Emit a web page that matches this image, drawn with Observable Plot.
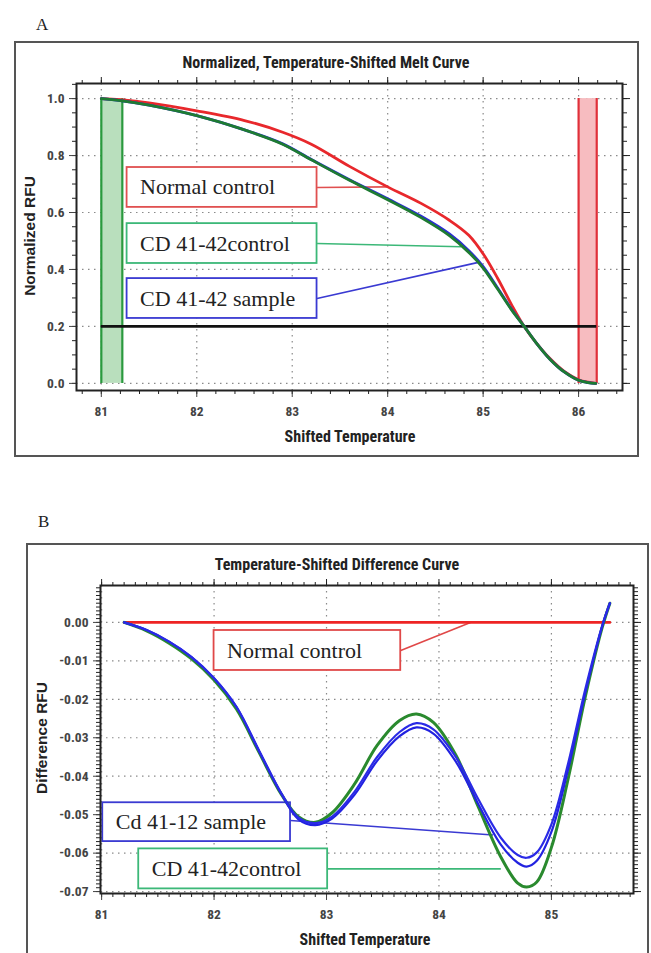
<!DOCTYPE html>
<html><head><meta charset="utf-8">
<script src="https://cdn.jsdelivr.net/npm/d3@7"></script>
<script src="https://cdn.jsdelivr.net/npm/@observablehq/plot@0.6"></script>
<style>
body{margin:0;background:#fff;}
#page{position:relative;width:651px;height:953px;overflow:hidden;background:#fff;}
.letter{position:absolute;font-family:"Liberation Serif","DejaVu Serif",serif;font-size:17px;color:#222;}
.box{position:absolute;border:2px solid #555;box-sizing:border-box;}
.title,.xlab{position:absolute;font-family:"Liberation Sans Narrow","Arial Narrow","Roboto Condensed","Liberation Sans",sans-serif;font-weight:bold;font-size:16px;color:#222;transform:translate(-50%,-50%);white-space:nowrap;line-height:1;}
.ylab{position:absolute;font-family:"Liberation Sans",Arial,sans-serif;font-weight:bold;font-size:15.5px;color:#222;transform:translate(-50%,-50%) rotate(-90deg);white-space:nowrap;line-height:1;}
.plot{position:absolute;left:0;}
</style></head>
<body>
<div id="page">
  <div class="letter" style="left:36px;top:15px;">A</div>
  <div class="box" style="left:14px;top:41px;width:625px;height:416px;"></div>
  <div class="plot" id="plotA" style="top:0px;"></div>
  <div class="title" style="left:326px;top:63px;">Normalized, Temperature-Shifted Melt Curve</div>
  <div class="xlab" style="left:350px;top:437px;">Shifted Temperature</div>
  <div class="ylab" style="left:30px;top:236px;">Normalized RFU</div>

  <div class="letter" style="left:38px;top:512px;">B</div>
  <div class="box" style="left:26px;top:543px;width:623px;height:430px;"></div>
  <div class="plot" id="plotB" style="top:500px;"></div>
  <div class="title" style="left:337px;top:565px;">Temperature-Shifted Difference Curve</div>
  <div class="xlab" style="left:365px;top:940px;">Shifted Temperature</div>
  <div class="ylab" style="left:42px;top:738px;">Difference RFU</div>
</div>
<script>
// ---------- Panel A : normalized melt curve ----------
const meltTemp      = [81.0, 81.2, 81.5, 82.0, 82.5, 82.9, 83.2, 83.6, 84.0, 84.35, 84.65, 84.85, 85.0, 85.15, 85.3, 85.43, 85.55, 85.7, 85.85, 86.0, 86.1, 86.18];
const meltNormal    = [1.0, 0.996, 0.985, 0.957, 0.923, 0.882, 0.84, 0.762, 0.69, 0.632, 0.572, 0.52, 0.455, 0.37, 0.275, 0.2, 0.145, 0.087, 0.042, 0.013, 0.004, 0.0];
const meltCdControl = [1.0, 0.993, 0.977, 0.94, 0.89, 0.84, 0.785, 0.713, 0.645, 0.582, 0.518, 0.46, 0.405, 0.332, 0.257, 0.2, 0.145, 0.085, 0.04, 0.011, 0.003, 0.0];
const meltCdSample  = [1.0, 0.993, 0.977, 0.94, 0.89, 0.841, 0.786, 0.715, 0.648, 0.587, 0.524, 0.466, 0.41, 0.336, 0.259, 0.2, 0.145, 0.085, 0.04, 0.011, 0.003, 0.0];
const meltXTicks = [81, 82, 83, 84, 85, 86];
const meltYTicks = [0.0, 0.2, 0.4, 0.6, 0.8, 1.0];
const meltThreshold = 0.2;
const meltStartBand = [81.0, 81.22];
const meltEndBand   = [86.0, 86.19];
const meltLabels  = ["Normal control", "CD 41-42control", "CD 41-42 sample"];
const meltColors  = ["#e8282c", "#1e7b32", "#2a2ad8"];
const meltBoxColors = ["#e05050", "#3cb878", "#3a3ad2"];

// ---------- Panel B : difference curve ----------
const diffTemp      = [81.2, 81.4, 81.6, 81.8, 82.0, 82.2, 82.4, 82.6, 82.75, 82.9, 83.05, 83.25, 83.45, 83.65, 83.8, 83.95, 84.15, 84.35, 84.55, 84.7, 84.78, 84.87, 85.0, 85.15, 85.3, 85.45, 85.52];
const diffNormal    = [0, 0, 0, 0, 0, 0, 0, 0, 0, 0, 0, 0, 0, 0, 0, 0, 0, 0, 0, 0, 0, 0, 0, 0, 0, 0, 0];
const diffCdControl = [0, -0.0022, -0.0054, -0.0095, -0.015, -0.0226, -0.0338, -0.0448, -0.0505, -0.052, -0.0495, -0.042, -0.032, -0.0255, -0.0238, -0.026, -0.0345, -0.048, -0.061, -0.0678, -0.0688, -0.0675, -0.0585, -0.0405, -0.0195, -0.0015, 0.005];
const diffCdSample1 = [0, -0.002, -0.005, -0.009, -0.0145, -0.022, -0.0333, -0.0445, -0.0508, -0.0522, -0.0505, -0.044, -0.035, -0.0285, -0.0262, -0.0278, -0.035, -0.046, -0.056, -0.0605, -0.0612, -0.0598, -0.0525, -0.0365, -0.0175, -0.001, 0.005];
const diffCdSample2 = [0, -0.002, -0.005, -0.009, -0.0145, -0.022, -0.0335, -0.0447, -0.0512, -0.0527, -0.051, -0.0448, -0.036, -0.0296, -0.0273, -0.0289, -0.0362, -0.0473, -0.0578, -0.0625, -0.0635, -0.062, -0.0545, -0.038, -0.0185, -0.0012, 0.005];
const diffXTicks = [81, 82, 83, 84, 85];
const diffYTicks = [0.00, -0.01, -0.02, -0.03, -0.04, -0.05, -0.06, -0.07];
const diffLabels = ["Normal control", "Cd 41-12 sample", "CD 41-42control"];

// ---------- annotation layout (data coordinates) ----------
const annA = [
  {label: meltLabels[0], color: meltBoxColors[0], x1: 81.27, x2: 83.26, y1: 0.618, y2: 0.758, lx: 84.0,  ly: 0.69,  sy: 0.688},
  {label: meltLabels[1], color: meltBoxColors[1], x1: 81.27, x2: 83.26, y1: 0.421, y2: 0.561, lx: 84.77, ly: 0.48, sy: 0.491},
  {label: meltLabels[2], color: meltBoxColors[2], x1: 81.27, x2: 83.26, y1: 0.228, y2: 0.368, lx: 84.95, ly: 0.425, sy: 0.298}
];
const annB = [
  {label: diffLabels[0], color: "#e04848", x1: 82.0,  x2: 83.66, y1: -0.0125, y2: -0.0021, lx: 84.28, ly: 0.0,     sy: -0.0073},
  {label: diffLabels[1], color: "#3a3ad2", x1: 81.01, x2: 82.68, y1: -0.057,  y2: -0.0469, lx: 84.48, ly: -0.0553, sy: -0.0515},
  {label: diffLabels[2], color: "#3cb878", x1: 81.33, x2: 83.01, y1: -0.0693, y2: -0.0589, lx: 84.55, ly: -0.0641, sy: -0.0641}
];

const axisFont = '"Liberation Sans Narrow","Arial Narrow","Roboto Condensed","Liberation Sans",sans-serif';
const serif = '"Liberation Serif","DejaVu Serif",serif';
const gridStyle = {stroke: "#8a8a8a", strokeOpacity: 1, strokeWidth: 1.2, strokeDasharray: "1.5,4.5"};

function rows(xs, ys) { return xs.map((x, i) => ({x, y: ys[i]})); }

function frameAxes(xMajor, yMajor, xMinor, yMinor, xFmt, yFmt) {
  const empty = () => "";
  return [
    Plot.axisX(xMinor, {anchor: "bottom", tickSize: 4, tickFormat: empty, label: null, color: "#222"}),
    Plot.axisX(xMinor, {anchor: "top", tickSize: 4, tickFormat: empty, label: null, color: "#222"}),
    Plot.axisY(yMinor, {anchor: "left", tickSize: 4, tickFormat: empty, label: null, color: "#222"}),
    Plot.axisY(yMinor, {anchor: "right", tickSize: 4, tickFormat: empty, label: null, color: "#222"}),
    Plot.axisX(xMajor, {anchor: "bottom", tickSize: 7, tickPadding: 9, tickFormat: xFmt, color: "#444", fontWeight: "bold", fontSize: 13.5, label: null}),
    Plot.axisX(xMajor, {anchor: "top", tickSize: 7, tickFormat: empty, label: null, color: "#222"}),
    Plot.axisY(yMajor, {anchor: "left", tickSize: 7, tickPadding: 5, tickFormat: yFmt, color: "#444", fontWeight: "bold", fontSize: 13.5, label: null}),
    Plot.axisY(yMajor, {anchor: "right", tickSize: 7, tickFormat: empty, label: null, color: "#222"}),
    Plot.frame({stroke: "#222", strokeWidth: 2})
  ];
}

function annotations(ann, fontSize) {
  return [
    Plot.link(ann, {x1: "x2", y1: "sy", x2: "lx", y2: "ly", stroke: "color", strokeWidth: 1.6}),
    Plot.rect(ann, {x1: "x1", x2: "x2", y1: "y1", y2: "y2", fill: "white", stroke: "color", strokeWidth: 1.8}),
    Plot.text(ann, {x: "x1", y: d => (d.y1 + d.y2) / 2, text: "label", dx: 13, textAnchor: "start",
      fontFamily: serif, fontSize, fontWeight: "normal", fill: "#222"})
  ];
}

const plotA = Plot.plot({
  width: 651, height: 460,
  marginLeft: 76, marginTop: 83, marginRight: 29, marginBottom: 70,
  x: {domain: [80.74, 86.46]},
  y: {domain: [-0.025, 1.053]},
  style: {fontFamily: axisFont, fontSize: "13px", fontWeight: "bold", background: "transparent", overflow: "visible"},
  marks: [
    Plot.gridX(meltXTicks, gridStyle),
    Plot.gridY(meltYTicks, gridStyle),
    Plot.rect([meltStartBand], {x1: d => d[0], x2: d => d[1], y1: 0, y2: 1, fill: "#b9dfbd"}),
    Plot.ruleX(meltStartBand, {y1: 0, y2: 1, stroke: "#2a9a3e", strokeWidth: 2.2}),
    Plot.rect([meltEndBand], {x1: d => d[0], x2: d => d[1], y1: 0, y2: 1, fill: "#f7bcc0"}),
    Plot.ruleX(meltEndBand, {y1: 0, y2: 1, stroke: "#e0303a", strokeWidth: 2.2}),
    Plot.ruleY([meltThreshold], {x1: meltStartBand[0], x2: meltEndBand[1], stroke: "#111", strokeWidth: 2.6}),
    ...annotations(annA, 22),
    Plot.line(rows(meltTemp, meltNormal), {x: "x", y: "y", stroke: meltColors[0], strokeWidth: 2.8, curve: "catmull-rom"}),
    Plot.line(rows(meltTemp, meltCdSample), {x: "x", y: "y", stroke: meltColors[2], strokeWidth: 2.8, curve: "catmull-rom"}),
    Plot.line(rows(meltTemp, meltCdControl), {x: "x", y: "y", stroke: meltColors[1], strokeWidth: 2.8, curve: "catmull-rom"}),
    ...frameAxes(meltXTicks, meltYTicks, d3.range(80.8, 86.45, 0.2), d3.range(0, 1.051, 0.05),
      d => d.toFixed(0), d => d.toFixed(1))
  ]
});
document.getElementById("plotA").appendChild(plotA);

const plotB = Plot.plot({
  width: 651, height: 453,
  marginLeft: 100, marginTop: 85, marginRight: 18, marginBottom: 60,
  x: {domain: [80.99, 85.73]},
  y: {domain: [-0.0705, 0.0096]},
  style: {fontFamily: axisFont, fontSize: "13px", fontWeight: "bold", background: "transparent", overflow: "visible"},
  marks: [
    Plot.gridX(diffXTicks, gridStyle),
    Plot.gridY(diffYTicks, gridStyle),
    ...annotations(annB, 22),
    Plot.line(rows(diffTemp, diffNormal), {x: "x", y: "y", stroke: "#ee2424", strokeWidth: 2.6}),
    Plot.line(rows(diffTemp, diffCdControl), {x: "x", y: "y", stroke: "#2a8a2e", strokeWidth: 3, curve: "catmull-rom"}),
    Plot.line(rows(diffTemp, diffCdSample2), {x: "x", y: "y", stroke: "#2222e0", strokeWidth: 2.2, curve: "catmull-rom"}),
    Plot.line(rows(diffTemp, diffCdSample1), {x: "x", y: "y", stroke: "#2a2ae6", strokeWidth: 2.2, curve: "catmull-rom"}),
    ...frameAxes(diffXTicks, diffYTicks, d3.range(81, 85.75, 0.1), d3.range(-0.07, 0.0095, 0.001),
      d => d.toFixed(0), d => d.toFixed(2))
  ]
});
document.getElementById("plotB").appendChild(plotB);
</script>
</body></html>
